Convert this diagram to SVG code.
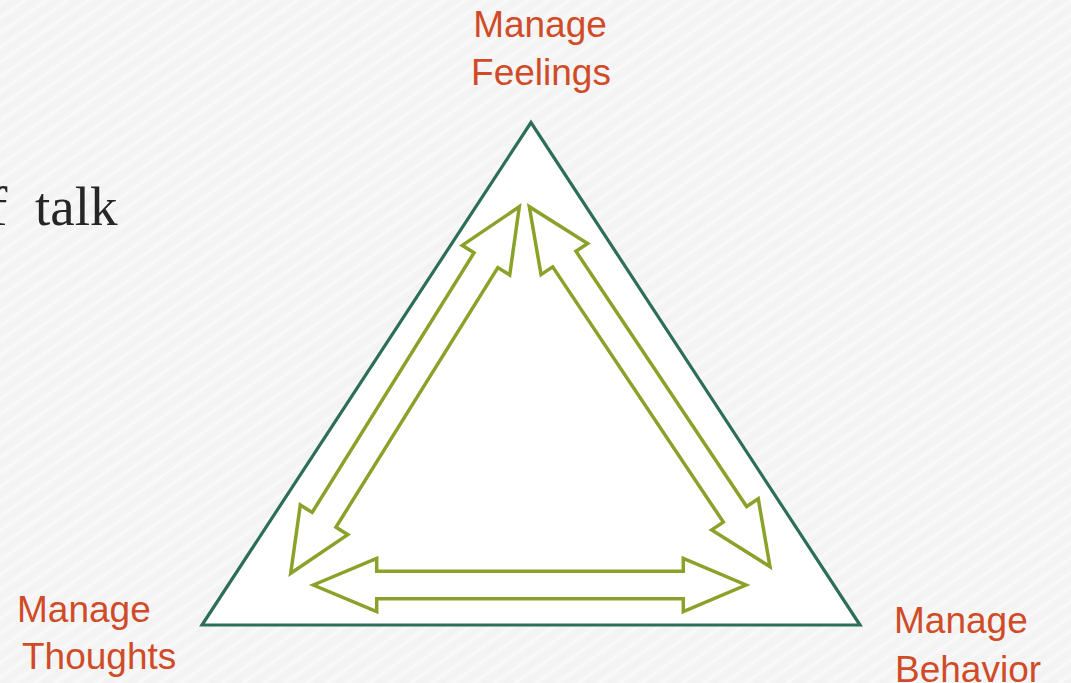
<svg xmlns="http://www.w3.org/2000/svg" width="1071" height="683" viewBox="0 0 1071 683">
  <defs>
    <pattern id="paper" width="12" height="12" patternUnits="userSpaceOnUse" patternTransform="rotate(-35)">
      <rect width="12" height="12" fill="#f4f4f4"/>
      <line x1="0" y1="3" x2="12" y2="3" stroke="#f9f9f9" stroke-width="3"/>
      <line x1="0" y1="9" x2="12" y2="9" stroke="#f0f0f0" stroke-width="1"/>
    </pattern>
    <style>
      .lbl { font-family: "Liberation Sans", Arial, sans-serif; font-size: 37px; fill: #d04b27; }
      .arrow { fill: #ffffff; stroke: #8aa12a; stroke-width: 3.5; stroke-linejoin: miter; }
      .tri { fill: #ffffff; stroke: #2d6e57; stroke-width: 3.2; stroke-linejoin: miter; }
      .serif { font-family: "Liberation Serif", "Times New Roman", serif; font-size: 55px; fill: #262626; }
    </style>
  </defs>
  <rect x="0" y="0" width="1071" height="683" fill="url(#paper)"/>

  <text class="serif" x="-11" y="225">f <tspan x="35">talk</tspan></text>

  <g id="triangle">
    <polygon class="tri" points="531,122.5 202,625 860,625"/>
  </g>

  <g id="connectors">
    <polygon class="arrow" points="519.3,206.7 509.72,274.98 497.84,267.57 335.92,527.25 347.8,534.66 290.7,573.3 300.28,505.02 312.16,512.43 474.08,252.75 462.2,245.34"/>
    <polygon class="arrow" points="529.3,206.7 541.04,274.63 552.68,266.85 723.34,522.11 711.7,529.89 770,566.7 758.26,498.77 746.62,506.55 575.96,251.29 587.6,243.51"/>
    <polygon class="arrow" points="313.3,585 376.7,558.3 376.7,571.2 683.3,571.2 683.3,558.3 746,585 683.3,611.7 683.3,598.8 376.7,598.8 376.7,611.7"/>
  </g>

  <g id="node-feelings">
    <text class="lbl" x="540" y="37" text-anchor="middle">Manage</text>
    <text class="lbl" x="541" y="85" text-anchor="middle">Feelings</text>
  </g>
  <g id="node-thoughts">
    <text class="lbl" x="17" y="622">Manage</text>
    <text class="lbl" x="22" y="669">Thoughts</text>
  </g>
  <g id="node-behavior">
    <text class="lbl" x="894" y="633">Manage</text>
    <text class="lbl" x="895" y="682">Behavior</text>
  </g>
</svg>
